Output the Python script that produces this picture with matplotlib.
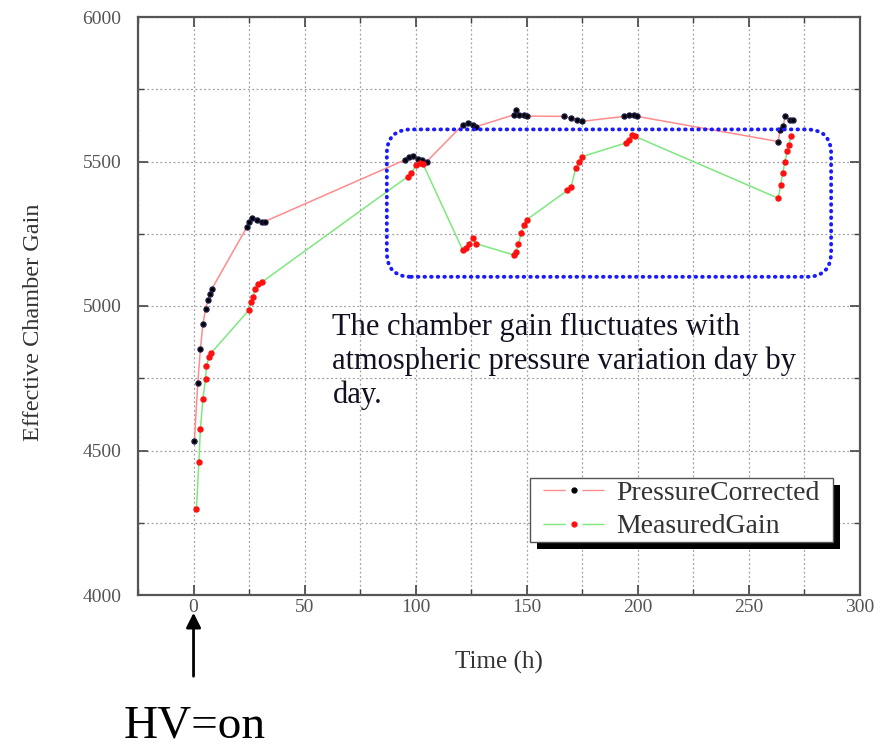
import matplotlib
matplotlib.use("Agg")
import matplotlib.pyplot as plt
from matplotlib.patches import FancyBboxPatch, Rectangle
from matplotlib.lines import Line2D
from matplotlib.ticker import MultipleLocator
from matplotlib.transforms import IdentityTransform

# ---------------- data ----------------
t_pc = [0.4, 1.9, 3.1, 4.2, 5.4, 6.6, 7.3, 8.3,
        24.1, 24.8, 26.3, 28.6, 30.8, 32.0,
        95.0, 97.0, 99.0, 101.0, 103.0, 105.0,
        121.2, 123.5, 125.7, 127.0,
        144.4, 145.1, 146.6, 148.9, 150.0,
        166.8, 169.8, 172.8, 175.0,
        193.7, 196.0, 198.2, 199.7,
        263.2, 264.0, 265.5, 266.2, 268.4, 270.0]
g_pc = [4534, 4733, 4852, 4936, 4990, 5020, 5043, 5060,
        5274, 5292, 5303, 5298, 5292, 5292,
        5505, 5515, 5520, 5510, 5505, 5500,
        5627, 5633, 5627, 5620,
        5662, 5679, 5662, 5662, 5657,
        5656, 5650, 5645, 5639,
        5656, 5662, 5660, 5656,
        5569, 5610, 5622, 5656, 5645, 5645]

t_mg = [1.3, 2.4, 3.1, 4.2, 5.4, 5.8, 6.9, 7.9,
        24.8, 25.9, 26.8, 27.8, 28.8, 30.8,
        96.5, 98.0, 100.3, 101.8, 103.3,
        121.2, 122.7, 124.2, 125.7, 127.1,
        144.4, 145.1, 146.2, 147.4, 148.9, 149.9,
        168.3, 170.0, 172.0, 173.5, 175.0,
        194.5, 196.0, 197.5, 198.7,
        263.2, 264.3, 265.2, 266.2, 267.3, 268.0, 268.9]
g_mg = [4296, 4461, 4576, 4678, 4748, 4791, 4823, 4837,
        4985, 5014, 5031, 5060, 5077, 5083,
        5448, 5460, 5489, 5494, 5491,
        5193, 5199, 5216, 5234, 5216,
        5176, 5188, 5213, 5251, 5280, 5298,
        5400, 5413, 5477, 5500, 5517,
        5564, 5575, 5593, 5587,
        5373, 5419, 5459, 5500, 5535, 5558, 5587]

series_labels = ["PressureCorrected", "MeasuredGain"]
x_label = "Time (h)"
y_label = "Effective Chamber Gain"
note = "The chamber gain fluctuates with\natmospheric pressure variation day by\nday."
hv_text = "HV=on"
box_x = [87, 287]
box_y = [5101, 5611]

# ---------------- figure ----------------
plt.rcParams['font.family'] = ['Liberation Serif', 'DejaVu Serif']
W, H = 886, 749
fig = plt.figure(figsize=(W / 100, H / 100), dpi=100)
ax = fig.add_axes([138 / W, 1 - 595 / H, (860 - 138) / W, (595 - 17) / H])

ax.set_xlim(-25, 300)
ax.set_ylim(4000, 6000)
ax.xaxis.set_major_locator(MultipleLocator(50))
ax.xaxis.set_minor_locator(MultipleLocator(25))
ax.yaxis.set_major_locator(MultipleLocator(500))
ax.yaxis.set_minor_locator(MultipleLocator(250))
ax.grid(True, which='both', color='#a0a0a0', linestyle=(0, (1.5, 2.0)), linewidth=0.9)
ax.set_axisbelow(True)
ax.tick_params(which='both', direction='in', top=True, right=True,
               labelsize=14, labelcolor='#555555', color='#444444')
ax.tick_params(which='major', length=7, width=1.2)
ax.tick_params(which='minor', length=4, width=1.0)
ax.tick_params(axis='y', which='major', pad=12)
ax.tick_params(axis='x', which='major', pad=3)
for s in ax.spines.values():
    s.set_color('#555555')
    s.set_linewidth(1.6)

pc_line_color = '#ff8c8c'
mg_line_color = '#7ee87e'
ax.plot(t_pc, g_pc, color=pc_line_color, linewidth=1.1, zorder=3)
ax.plot(t_mg, g_mg, color=mg_line_color, linewidth=1.1, zorder=3)
ax.plot(t_pc, g_pc, linestyle='none', marker='o', markersize=3.6,
        markerfacecolor='black', markeredgecolor='#1a1a40', zorder=4)
ax.plot(t_mg, g_mg, linestyle='none', marker='o', markersize=3.6,
        markerfacecolor='#ff1010', markeredgecolor='#ff1010', zorder=4)

# blue dotted rounded box
px_per_x = (860 - 138) / 325.0
px_per_y = (595 - 17) / 2000.0
aspect = px_per_x / px_per_y
box = FancyBboxPatch((box_x[0], box_y[0]), box_x[1] - box_x[0], box_y[1] - box_y[0],
                     boxstyle="round,pad=0,rounding_size=11",
                     mutation_aspect=aspect,
                     facecolor='none', edgecolor='#1a1aff', linewidth=2.8,
                     linestyle=(0, (0.15, 1.55)), zorder=5)
box.set_capstyle('round')
ax.add_patch(box)

ax.text(62.5, 4978, note, fontsize=22, color='#111122', va='top', ha='left',
        linespacing=1.2, zorder=6)

ax.set_xlabel(x_label, fontsize=18, color='#333333', labelpad=25)
ax.set_ylabel(y_label, fontsize=17.5, color='#333333')
ax.yaxis.set_label_coords((44 - 138) / 722, (595 - 322) / 578)

# legend: own frame + shadow in pixel coordinates, entries centred inside
fx0, fy0, fx1, fy1 = 530, 478, 833, 542   # frame in image pixels (top-left origin)
shadow = Rectangle((fx0 + 7, H - fy1 - 7), fx1 - fx0, fy1 - fy0,
                   transform=IdentityTransform(), facecolor='black',
                   edgecolor='none', zorder=9)
frame = Rectangle((fx0, H - fy1), fx1 - fx0, fy1 - fy0,
                  transform=IdentityTransform(), facecolor='white',
                  edgecolor='#555555', linewidth=1.0, zorder=9.5)
for p in (shadow, frame):
    ax.add_artist(p)
    p.set_clip_on(False)

h1 = (Line2D([], [], color=pc_line_color, linewidth=1.0, dashes=(16, 12)),
      Line2D([], [], linestyle='none', marker='o', markersize=3.5, color='black'))
h2 = (Line2D([], [], color=mg_line_color, linewidth=1.0, dashes=(16, 12)),
      Line2D([], [], linestyle='none', marker='o', markersize=3.5, color='#ff1010'))
leg = ax.legend([h1, h2], series_labels, loc='center',
                bbox_to_anchor=((fx0 + fx1) / 2 / W, 1 - (fy0 + fy1) / 2 / H),
                bbox_transform=fig.transFigure,
                borderaxespad=0, fontsize=20, frameon=False,
                handlelength=2.2, handletextpad=0.45, borderpad=0.0,
                labelspacing=0.28, labelcolor='#333333')
leg.set_zorder(10)

# HV=on arrow + text
ax.annotate('', xy=(0, 4000 - 15 * 2000 / 578), xycoords='data',
            xytext=(0, 4000 - 84 * 2000 / 578), textcoords='data',
            arrowprops=dict(arrowstyle='-|>', color='black', linewidth=2.0,
                            mutation_scale=22),
            annotation_clip=False)
fig.text(195 / W, 1 - 738 / H, hv_text, fontsize=34, color='black',
         ha='center', va='baseline')

fig.savefig('out.png', dpi=100)
